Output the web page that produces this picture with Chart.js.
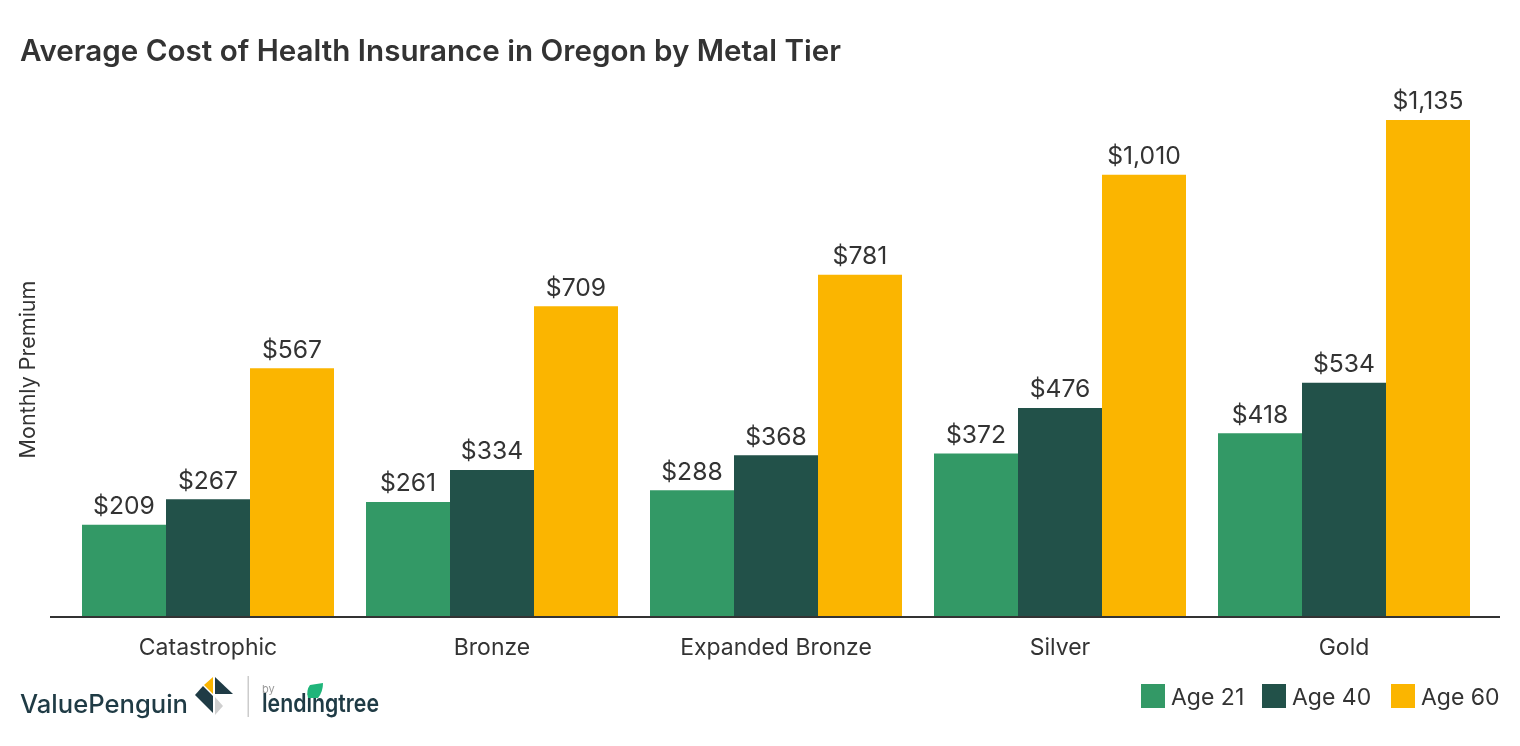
<!DOCTYPE html>
<html><head><meta charset="utf-8">
<style>html,body{margin:0;padding:0;background:#fff;overflow:hidden}
#w{position:relative;width:1520px;height:746px}
canvas{position:absolute;left:0;top:0}
svg{position:absolute;left:0;top:0}</style>
<script src="https://cdn.jsdelivr.net/npm/chart.js@4"></script></head>
<body><div id="w"><canvas id="c" width="1520" height="746"></canvas>
<svg width="1520" height="746" style="pointer-events:none">
<text x="20" y="713" font-family="Inter" font-size="25.5" font-weight="500" fill="#1f3b45" textLength="168" lengthAdjust="spacingAndGlyphs">ValuePenguin</text>
<polygon points="213,677 213,694 204,685" fill="#fbb500"/>
<polygon points="215,677 233,694 215,694" fill="#1f3b45"/>
<polygon points="195,695 203,686 213,696 213,713" fill="#1f3b45"/>
<polygon points="215,697 223,706 215,715" fill="#cfcfcf"/>
<rect x="247.5" y="676" width="1.5" height="41" fill="#cccccc"/>
<text x="262" y="693" font-family="Inter" font-size="11" fill="#9a9a9a">by</text>
<text x="262" y="712" font-family="Inter" font-size="25" font-weight="600" fill="#1f3b45" textLength="117" lengthAdjust="spacingAndGlyphs">lendingtree</text>
<path d="M323,683 L310,685 Q306,690 308,698 L318,698 Q323,692 323,683 Z" fill="#1fb57a"/>
</svg></div>
<script>
const categories=["Catastrophic","Bronze","Expanded Bronze","Silver","Gold"];
const age21=[209,261,288,372,418];
const age40=[267,334,368,476,534];
const age60=[567,709,781,1010,1135];
const seriesNames=["Age 21","Age 40","Age 60"];
const seriesColors=["#339966","#225149","#fbb500"];
const titleText="Average Cost of Health Insurance in Oregon by Metal Tier";
const yTitle="Monthly Premium";
const FONT='Inter';
const ink='#333333';
Chart.defaults.font.family=FONT;
const decor={id:'decor',afterDatasetsDraw(ch){
 const c=ch.ctx,a=ch.chartArea;
 c.save();
 c.fillStyle=ink;c.fillRect(50,a.bottom,1450,2);
 c.font='400 24.7px '+FONT;c.textAlign='center';c.textBaseline='middle';
 ch.data.datasets.forEach((d,i)=>{ch.getDatasetMeta(i).data.forEach((b,j)=>{
   c.fillText('$'+d.data[j].toLocaleString('en-US'),b.x,b.y-18);});});
 c.save();c.translate(29,369.5);c.rotate(-Math.PI/2);c.font='400 21.5px '+FONT;c.fillText(yTitle,0,0);c.restore();
 c.font='400 23px '+FONT;c.textAlign='left';c.textBaseline='middle';
 const xs=[1141,1262,1391];
 ch.data.datasets.forEach((d,i)=>{c.fillStyle=d.backgroundColor;c.fillRect(xs[i],684,24,24);
   c.fillStyle=ink;c.fillText(d.label,xs[i]+30,698);});
 c.restore();
}};
new Chart(document.getElementById('c'),{type:'bar',
 data:{labels:categories,datasets:[
  {label:seriesNames[0],data:age21,backgroundColor:seriesColors[0]},
  {label:seriesNames[1],data:age40,backgroundColor:seriesColors[1]},
  {label:seriesNames[2],data:age60,backgroundColor:seriesColors[2]}]},
 options:{responsive:false,animation:false,devicePixelRatio:1,
  layout:{padding:{left:20,right:34,top:0,bottom:0}},
  datasets:{bar:{barPercentage:1,categoryPercentage:252/284,borderWidth:0}},
  plugins:{legend:{display:false},tooltip:{enabled:false},
   title:{display:true,text:titleText,align:'start',color:ink,
     font:{size:29.6,weight:'600',lineHeight:1},padding:{top:37,bottom:25}}},
  scales:{
   x:{grid:{display:false},border:{display:false},
      ticks:{color:ink,font:{size:23},padding:10,maxRotation:0},
      afterFit(s){s.height=130}},
   y:{min:0,max:1200,display:true,grid:{display:false},border:{display:false},
      ticks:{display:false},afterFit(s){s.width=46}}
  }},
 plugins:[decor]});
</script></body></html>
